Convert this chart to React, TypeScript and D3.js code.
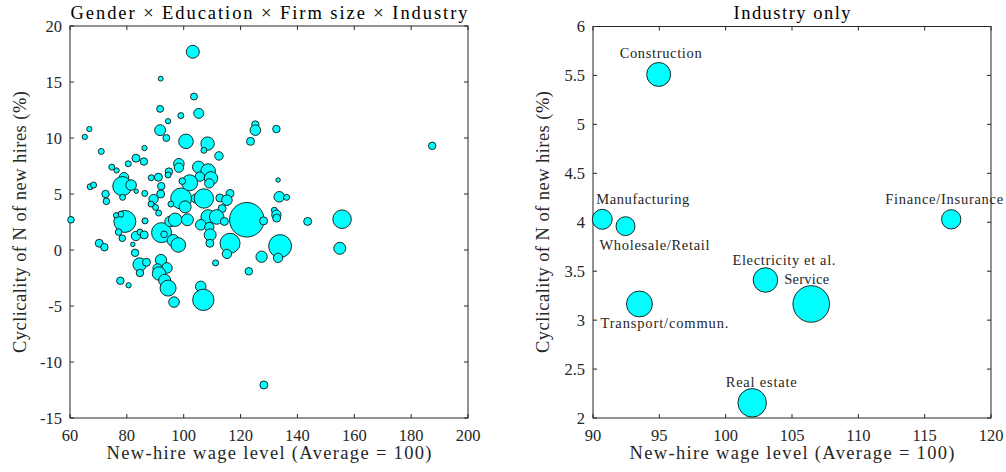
import React from "react";
import * as d3 from "d3";

// ---- Left panel data: Gender x Education x Firm size x Industry cells ----
const cellWage = [
  103.2, 91.9, 103.6, 91.7, 105.3, 94.5, 99.0, 66.8, 65.2, 91.7,
  93.9, 100.8, 108.4, 107.1, 112.4, 125.2, 125.2, 123.5, 71.0, 86.2,
  74.7, 76.4, 80.5, 83.2, 86.0, 98.3, 98.3, 105.2, 108.6, 109.6,
  105.7, 109.0, 94.8, 94.5, 88.6, 91.1, 92.1, 91.9, 89.4, 88.5,
  90.1, 91.2, 86.3, 86.3, 79.0, 77.8, 78.4, 81.5, 83.3, 78.5,
  67.1, 68.3, 72.5, 72.8, 60.35, 99.1, 102.1, 104.2, 107.1, 100.5,
  112.7, 116.3, 115.2, 113.5, 122.2, 128.1, 79.3, 77.9, 76.2, 86.4,
  77.1, 78.4, 70.3, 72.1, 83.2, 84.6, 86.1, 82.1, 82.9, 84.5,
  84.6, 86.9, 92.2, 93.1, 95.2, 97.0, 95.5, 101.3, 96.3, 98.1,
  92.0, 94.1, 90.8, 91.3, 93.3, 94.5, 96.6, 77.7, 80.6, 106.0,
  106.9, 108.6, 111.6, 114.3, 106.0, 109.0, 109.3, 109.2, 116.3, 115.2,
  111.2, 127.4, 122.9, 128.2, 132.6, 187.4, 133.2, 133.6, 136.2, 131.9,
  132.6, 132.7, 143.6, 155.7, 133.9, 133.2, 154.9, 99.5,
];
const cellCyc = [
  17.7, 15.3, 13.7, 12.6, 12.2, 11.5, 12.0, 10.8, 10.1, 10.7,
  10.0, 9.7, 9.5, 8.9, 8.4, 11.2, 10.7, 9.7, 8.8, 9.1,
  7.4, 7.1, 7.7, 8.2, 7.9, 7.7, 7.35, 7.4, 7.05, 6.4,
  6.55, 5.95, 7.0, 6.7, 6.45, 6.5, 5.7, 5.0, 4.55, 4.1,
  3.8, 3.3, 5.05, 2.6, 6.5, 6.0, 5.7, 5.8, 5.25, 4.7,
  5.65, 5.8, 5.0, 4.35, 2.7, 4.6, 6.0, 4.6, 4.6, 3.85,
  4.65, 5.05, 4.45, 3.7, 2.7, 2.6, 2.55, 3.2, 3.1, 2.6,
  1.6, 1.05, 0.6, 0.25, 1.25, 1.6, 1.35, 0.5, -0.25, -1.3,
  -2.05, -1.1, 1.55, 1.4, 2.55, 2.7, 4.1, 2.7, 0.85, 0.45,
  -0.9, -1.6, -1.65, -2.1, -2.7, -3.4, -4.65, -2.75, -3.15, -3.25,
  -4.45, 2.95, 2.95, 2.55, 2.25, 2.05, 1.35, 0.6, 0.6, -0.35,
  -1.15, -0.6, -1.9, -12.05, 10.8, 9.3, 6.25, 4.75, 4.7, 3.55,
  3.15, 2.85, 2.55, 2.75, 0.35, -0.7, 0.15, 6.15,
];
const cellWeight = [
  4.2, 0.6, 1.2, 1.2, 2.5, 0.7, 0.9, 0.7, 0.7, 3.0,
  1.2, 5.3, 4.5, 0.9, 1.8, 1.4, 2.8, 1.6, 0.9, 0.7,
  0.9, 0.7, 0.9, 1.6, 1.4, 2.8, 2.2, 3.6, 5.3, 4.5,
  2.2, 2.2, 1.4, 0.9, 0.9, 1.6, 1.4, 1.6, 2.2, 0.9,
  0.9, 0.9, 0.9, 0.7, 2.2, 0.9, 9.2, 2.8, 0.5, 0.9,
  0.9, 0.9, 1.4, 1.1, 1.1, 11.0, 6.4, 2.0, 9.4, 3.6,
  1.6, 1.6, 2.8, 1.6, 30.0, 1.6, 12.1, 0.9, 0.7, 0.9,
  1.1, 1.1, 1.6, 1.4, 2.2, 0.9, 1.6, 0.5, 1.4, 4.5,
  1.4, 1.6, 10.0, 1.1, 2.8, 4.5, 0.9, 3.6, 3.6, 5.3,
  3.2, 2.8, 2.2, 4.5, 3.6, 6.4, 2.8, 1.4, 0.7, 2.8,
  11.4, 5.3, 5.3, 1.6, 2.8, 2.2, 3.6, 1.6, 10.0, 2.2,
  0.9, 3.2, 1.4, 1.6, 1.4, 1.4, 0.5, 2.8, 0.9, 0.9,
  2.2, 1.6, 1.6, 8.6, 13.2, 2.2, 3.6, 1.1,
];

// ---- Right panel data: Industry only ----
const industries = [
  "Construction", "Manufacturing", "Wholesale/Retail", "Transport/commun.",
  "Electricity et al.", "Service", "Finance/Insurance", "Real estate",
];
const indWage = [94.95, 90.7, 92.45, 93.5, 103.0, 106.45, 117.0, 102.0];
const indCyc = [5.51, 4.03, 3.96, 3.165, 3.41, 3.165, 4.03, 2.155];
const indWeight = [14.4, 10.0, 9.0, 16.9, 15.1, 33.5, 9.4, 20.4];

// label placement (pixel offsets from bubble centre, anchor, rendered width)
const labelOffsets: [number, number, string, number][] = [
  [2, -21, "middle", 82],
  [-6, -20, "start", 93],
  [-26, 19, "start", 110],
  [-39, 19, "start", 128],
  [-33, -20, "start", 103],
  [-27, -25, "start", 45],
  [-7, -20, "middle", 118],
  [9, -21, "middle", 71],
];

const leftXTicks = [60, 80, 100, 120, 140, 160, 180, 200];
const leftYTicks = [-15, -10, -5, 0, 5, 10, 15, 20];
const rightXTicks = [90, 95, 100, 105, 110, 115, 120];
const rightYTicks = [2, 2.5, 3, 3.5, 4, 4.5, 5, 5.5, 6];

const FONT = "'Liberation Serif', 'Times New Roman', serif";
const AXIS = "#262626";
const TICK = 4;

const rScale = d3.scaleSqrt().domain([0, 30]).range([0, 17.3]);

function Frame({ x, y, xTicks, yTicks, title, titleW }: any) {
  const [x0, x1] = x.range();
  const [y0, y1] = y.range();
  return (
    <g>
      <rect x={x0} y={y1} width={x1 - x0} height={y0 - y1} fill="white" stroke={AXIS} strokeWidth={1} />
      {xTicks.map((t: number) => (
        <g key={"x" + t}>
          <line x1={x(t)} x2={x(t)} y1={y0} y2={y0 - TICK} stroke={AXIS} />
          <line x1={x(t)} x2={x(t)} y1={y1} y2={y1 + TICK} stroke={AXIS} />
          <text x={x(t)} y={y0 + 17} textAnchor="middle" dominantBaseline="central" fontSize={16.5} fill="#262626">
            {String(t)}
          </text>
        </g>
      ))}
      {yTicks.map((t: number) => (
        <g key={"y" + t}>
          <line x1={x0} x2={x0 + TICK} y1={y(t)} y2={y(t)} stroke={AXIS} />
          <line x1={x1} x2={x1 - TICK} y1={y(t)} y2={y(t)} stroke={AXIS} />
          <text x={x0 - 8} y={y(t)} textAnchor="end" dominantBaseline="central" fontSize={16.5} fill="#262626">
            {String(t)}
          </text>
        </g>
      ))}
      <text x={(x0 + x1) / 2} y={12.5} textAnchor="middle" dominantBaseline="central" fontSize={18.5} fill="black"
        textLength={titleW} lengthAdjust="spacing">
        {title}
      </text>
      <text x={(x0 + x1) / 2} y={y0 + 35} textAnchor="middle" dominantBaseline="central" fontSize={18.5} fill="#262626"
        textLength={325} lengthAdjust="spacing">
        New-hire wage level (Average = 100)
      </text>
    </g>
  );
}

export default function App() {
  const xL = d3.scaleLinear().domain([60, 200]).range([70, 468]);
  const yL = d3.scaleLinear().domain([-15, 20]).range([418, 26]);
  const xR = d3.scaleLinear().domain([90, 120]).range([593, 991]);
  const yR = d3.scaleLinear().domain([2, 6]).range([418, 26.5]);

  return (
    <svg width={1006} height={472} style={{ position: "absolute", left: 0, top: 0, fontFamily: FONT }}>
      <rect width={1006} height={472} fill="white" />
      <Frame x={xL} y={yL} xTicks={leftXTicks} yTicks={leftYTicks} title="Gender × Education × Firm size × Industry" titleW={397} />
      <text transform={`translate(20,222) rotate(-90)`} textAnchor="middle" dominantBaseline="central" fontSize={18.5} fill="#262626"
        textLength={262} lengthAdjust="spacing">
        Cyclicality of N of new hires (%)
      </text>
      <g>
        {cellWage.map((w, i) => (
          <circle key={i} cx={xL(w)} cy={yL(cellCyc[i])} r={rScale(cellWeight[i])} fill="#00FFFF" stroke="#111" strokeWidth={0.9} />
        ))}
      </g>

      <Frame x={xR} y={yR} xTicks={rightXTicks} yTicks={rightYTicks} title="Industry only" titleW={117} />
      <text transform={`translate(543,222) rotate(-90)`} textAnchor="middle" dominantBaseline="central" fontSize={18.5} fill="#262626"
        textLength={262} lengthAdjust="spacing">
        Cyclicality of N of new hires (%)
      </text>
      <g>
        {indWage.map((w, i) => (
          <circle key={i} cx={xR(w)} cy={yR(indCyc[i])} r={rScale(indWeight[i])} fill="#00FFFF" stroke="#111" strokeWidth={0.9} />
        ))}
        {industries.map((name, i) => (
          <text
            key={name}
            x={xR(indWage[i]) + labelOffsets[i][0]}
            y={yR(indCyc[i]) + labelOffsets[i][1]}
            textAnchor={labelOffsets[i][2] as any}
            dominantBaseline="central"
            fontSize={14.5}
            fill="#262626"
            textLength={labelOffsets[i][3]}
            lengthAdjust="spacing"
          >
            {name}
          </text>
        ))}
      </g>
    </svg>
  );
}
